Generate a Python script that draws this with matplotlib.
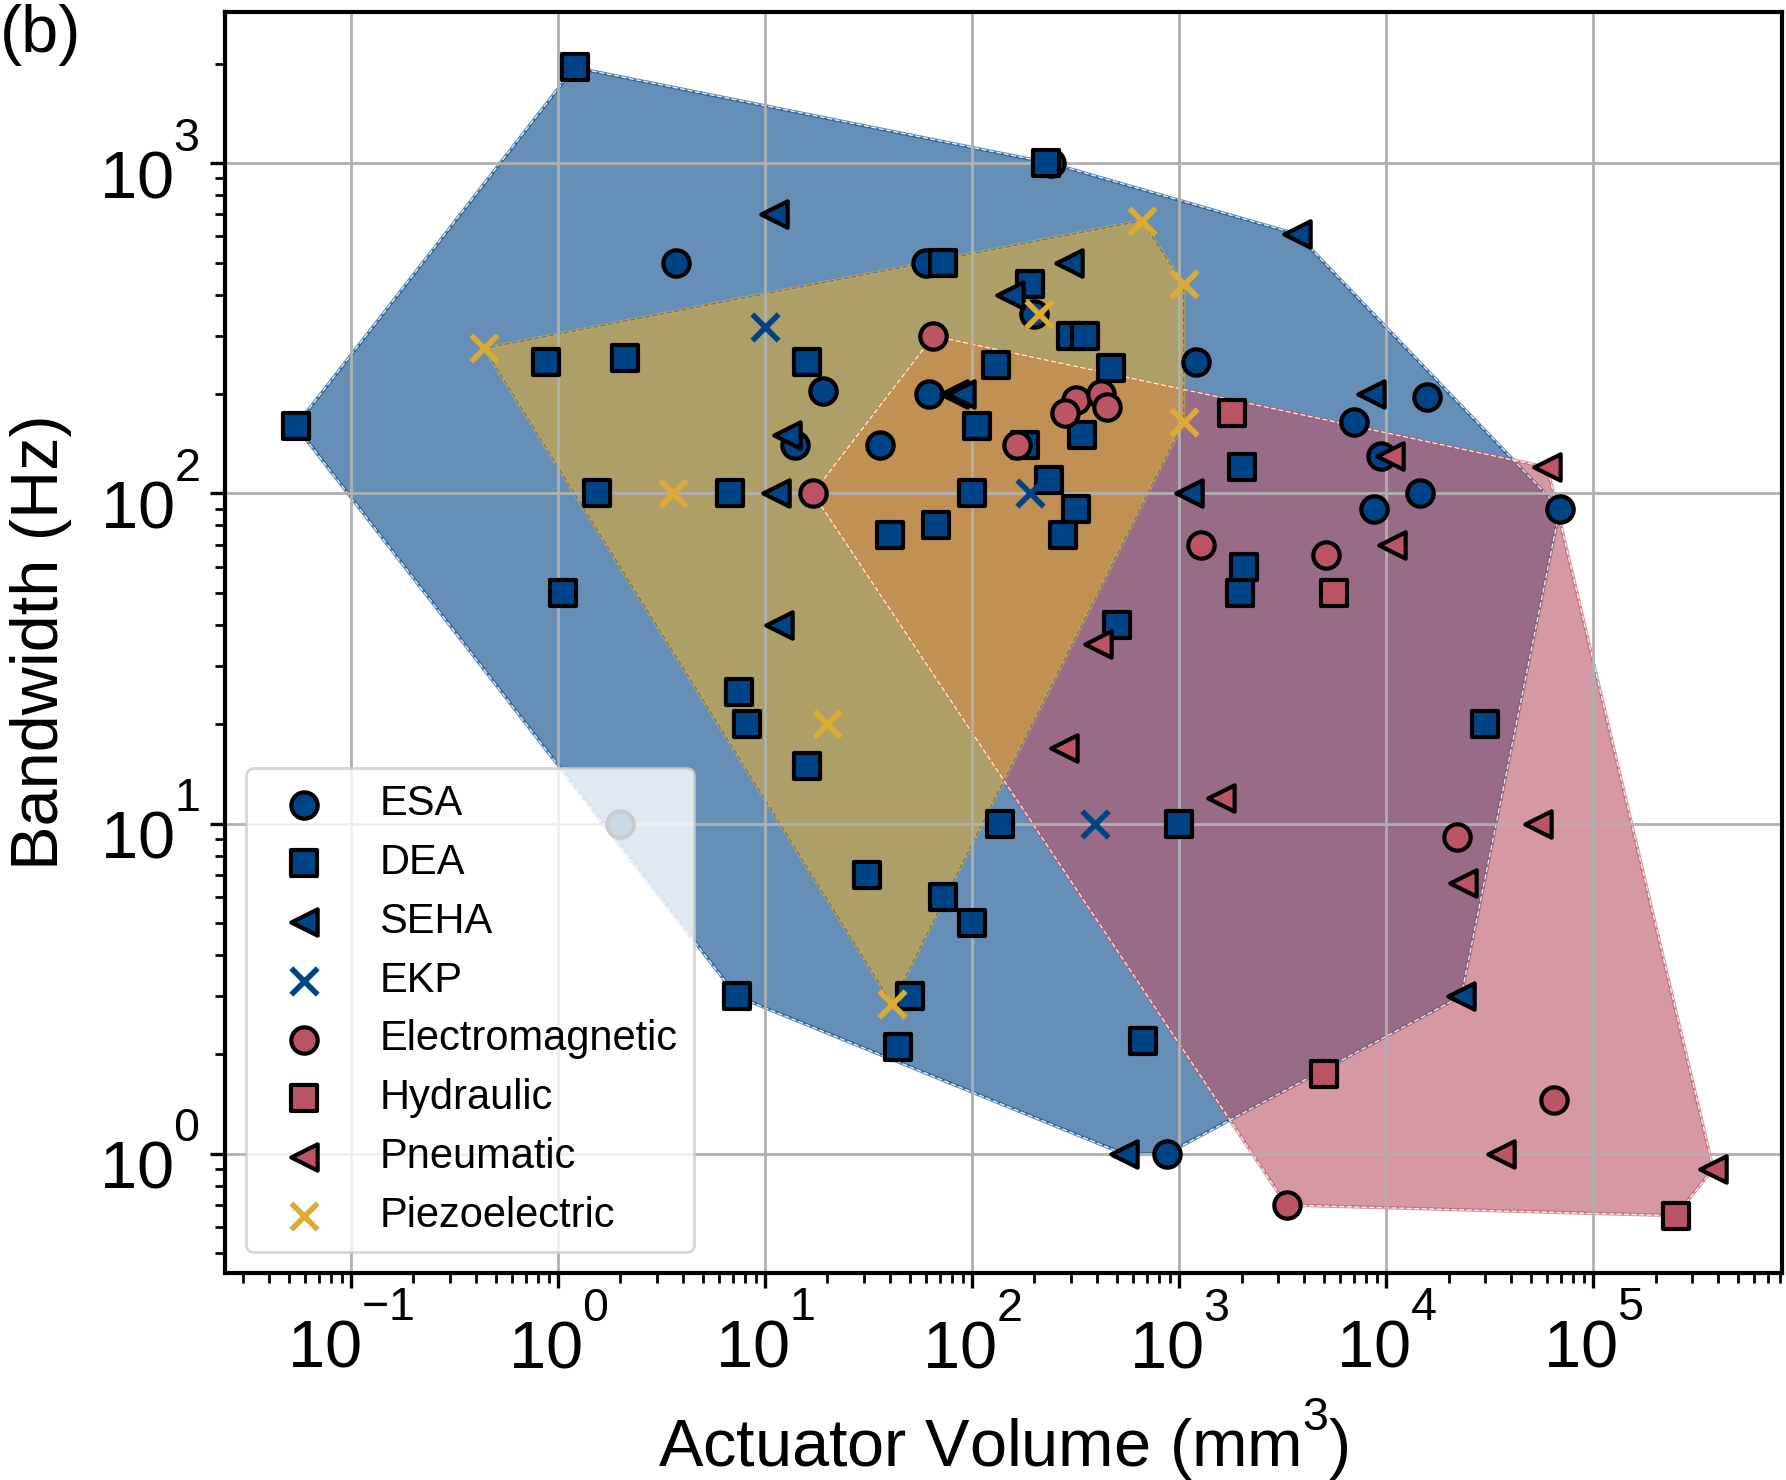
import numpy as np
import matplotlib
matplotlib.use("Agg")
import matplotlib.pyplot as plt

plt.rcParams['font.family'] = ['Liberation Sans', 'DejaVu Sans']
plt.rcParams['mathtext.fontset'] = 'custom'
plt.rcParams['mathtext.rm'] = 'Liberation Sans'
plt.rcParams['mathtext.it'] = 'Liberation Sans:italic'
plt.rcParams['mathtext.bf'] = 'Liberation Sans:bold'
plt.rcParams['mathtext.default'] = 'regular'

# Superscripts sit on top of the preceding glyph, as in the reference rendering
try:
    import matplotlib._mathtext as _mt
    _mt.Parser.is_dropsub = lambda self, nucleus: True
    _mt.FontConstantsBase.subdrop = 0.0
except Exception:
    pass

# ---------------- data (volume mm^3, bandwidth Hz) ----------------
esa_x = [3.7, 240, 60, 200, 1200, 19, 62, 14, 36, 7000, 15800, 9400, 14500, 8700, 69000, 2, 870]
esa_y = [500, 1000, 500, 350, 250, 205, 200, 140, 140, 165, 196, 130, 100, 90, 90, 10, 1.0]

dea_x = [1.2, 0.054, 0.87, 2.1, 227, 72, 190, 300, 350, 16, 130, 470, 106, 180, 340, 2000,
         1.54, 6.8, 100, 235, 316, 275, 40, 67, 1.06, 2050, 1970, 500, 7.5, 8.2, 30000, 16,
         136, 1000, 31, 72, 100, 7.3, 50, 44, 670]
dea_y = [1950, 160, 250, 258, 1000, 500, 430, 300, 300, 250, 245, 240, 160, 140, 150, 120,
         100, 100, 100, 110, 90, 75, 75, 80, 50, 60, 50, 40, 25, 20, 20, 15,
         10, 10, 7, 6, 5, 3, 3, 2.1, 2.2]

seha_x = [11, 3700, 295, 153, 82, 88, 12.7, 11.3, 1120, 8400, 11.6, 23000, 540]
seha_y = [700, 610, 500, 400, 200, 200, 150, 100, 100, 200, 40, 3, 1.0]

ekp_x = [10, 190, 390]
ekp_y = [320, 100, 10]

em_x = [65, 316, 420, 450, 280, 165, 17, 1270, 5100, 22000, 65000, 3300]
em_y = [300, 192, 200, 183, 175, 140, 100, 70, 65, 9.1, 1.46, 0.70]

hyd_x = [1800, 5600, 5000, 250000]
hyd_y = [175, 50, 1.75, 0.65]

pneu_x = [10400, 60000, 10700, 405, 277, 1600, 54000, 23500, 36000, 380000]
pneu_y = [130, 120, 70, 35, 17, 12, 10, 6.6, 1.0, 0.9]

piezo_x = [0.44, 660, 1050, 210, 1050, 3.6, 20, 41]
piezo_y = [275, 670, 430, 350, 165, 100, 20, 2.85]

BLUE = '#004488'
RED = '#BB5566'
YELLOW = '#DDAA33'


def log_hull(xs, ys):
    pts = sorted(set(zip(np.log10(xs), np.log10(ys))))

    def cross(o, a, b):
        return (a[0] - o[0]) * (b[1] - o[1]) - (a[1] - o[1]) * (b[0] - o[0])

    lower, upper = [], []
    for p in pts:
        while len(lower) >= 2 and cross(lower[-2], lower[-1], p) <= 0:
            lower.pop()
        lower.append(p)
    for p in reversed(pts):
        while len(upper) >= 2 and cross(upper[-2], upper[-1], p) <= 0:
            upper.pop()
        upper.append(p)
    h = np.array(lower[:-1] + upper[:-1])
    return 10 ** h[:, 0], 10 ** h[:, 1]


fig = plt.figure(figsize=(8.93, 7.40), dpi=200)
ax = fig.add_axes([0.1260, 0.1397, 0.8718, 0.8524])
ax.set_xscale('log')
ax.set_yscale('log')
ax.set_xlim(0.0246, 8.17e5)
ax.set_ylim(0.435, 2877)

groups_hull = [
    (esa_x + dea_x + seha_x + ekp_x, esa_y + dea_y + seha_y + ekp_y, BLUE, 'white'),
    (em_x + hyd_x + pneu_x, em_y + hyd_y + pneu_y, RED, 'white'),
    (piezo_x, piezo_y, YELLOW, '#4477aa'),
]
for gx, gy, c, ec in groups_hull:
    hx, hy = log_hull(gx, gy)
    ax.fill(hx, hy, color=c, alpha=0.6, lw=1.2, zorder=1)
    ax.plot(np.append(hx, hx[0]), np.append(hy, hy[0]), color=ec, lw=0.45,
            ls=(0, (4, 2)), alpha=0.9, zorder=1.1)

ax.set_axisbelow('line')
ax.grid(True, which='major', color='#b0b0b0', lw=1.0, zorder=1.5)

ms = 90
elw = 1.5
ax.scatter(esa_x, esa_y, s=ms, marker='o', facecolor=BLUE, edgecolor='black', linewidths=elw, zorder=3, label='ESA')
ax.scatter(dea_x, dea_y, s=ms, marker='s', facecolor=BLUE, edgecolor='black', linewidths=elw, zorder=3, label='DEA')
ax.scatter(seha_x, seha_y, s=ms, marker='<', facecolor=BLUE, edgecolor='black', linewidths=elw, zorder=3, label='SEHA')
ax.scatter(ekp_x, ekp_y, s=ms, marker='x', color=BLUE, linewidths=2.0, zorder=3, label='EKP')
ax.scatter(em_x, em_y, s=ms, marker='o', facecolor=RED, edgecolor='black', linewidths=elw, zorder=3, label='Electromagnetic')
ax.scatter(hyd_x, hyd_y, s=ms, marker='s', facecolor=RED, edgecolor='black', linewidths=elw, zorder=3, label='Hydraulic')
ax.scatter(pneu_x, pneu_y, s=ms, marker='<', facecolor=RED, edgecolor='black', linewidths=elw, zorder=3, label='Pneumatic')
ax.scatter(piezo_x, piezo_y, s=ms, marker='x', color=YELLOW, linewidths=2.0, zorder=3, label='Piezoelectric')

for sp in ax.spines.values():
    sp.set_linewidth(1.5)
ax.tick_params(which='major', direction='out', length=5.5, width=1.2, labelsize=24, pad=3.5)
ax.tick_params(which='minor', direction='out', length=3.6, width=1.0)

ax.set_xlabel('Actuator Volume ($mm^3$)', fontsize=24)
ax.set_ylabel('Bandwidth (Hz)', fontsize=24)
ax.xaxis.set_label_coords(0.5, -0.097)
ax.yaxis.set_label_coords(-0.0983, 0.5)

leg = ax.legend(loc='lower left', fontsize=15, scatterpoints=1, handletextpad=0.8,
                labelspacing=0.45, framealpha=0.8, borderaxespad=0.5)
leg.set_zorder(5)

fig.text(0.0, 0.965, '(b)', fontsize=24, ha='left', va='baseline')

fig.savefig('out.png', dpi=200)
